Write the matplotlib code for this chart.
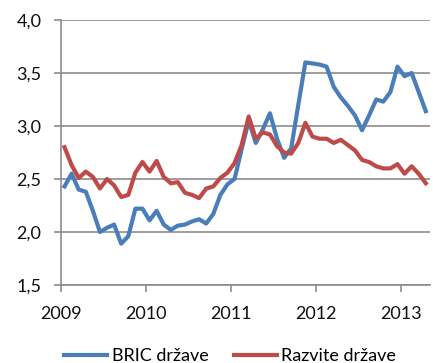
import numpy as np
import matplotlib.pyplot as plt
from matplotlib.ticker import FuncFormatter

# monthly values, Jan 2009 - Apr 2013
bric = [2.43, 2.55, 2.40, 2.38, 2.20, 2.00, 2.04, 2.07, 1.89, 1.96, 2.22, 2.22,
        2.11, 2.20, 2.07, 2.02, 2.06, 2.07, 2.10, 2.12, 2.08, 2.17, 2.35, 2.45,
        2.50, 2.78, 3.05, 2.84, 2.97, 3.12, 2.88, 2.70, 2.79, 3.20, 3.60, 3.59,
        3.58, 3.56, 3.37, 3.27, 3.19, 3.10, 2.96, 3.10, 3.25, 3.23, 3.32, 3.56,
        3.47, 3.50, 3.32, 3.14]
razvite = [2.80, 2.63, 2.51, 2.57, 2.52, 2.41, 2.50, 2.44, 2.33, 2.35, 2.56, 2.66,
           2.57, 2.67, 2.52, 2.46, 2.47, 2.37, 2.35, 2.32, 2.41, 2.43, 2.51, 2.56,
           2.65, 2.82, 3.09, 2.88, 2.94, 2.92, 2.81, 2.75, 2.74, 2.84, 3.03, 2.90,
           2.88, 2.88, 2.84, 2.87, 2.82, 2.77, 2.68, 2.66, 2.62, 2.60, 2.60, 2.64,
           2.55, 2.62, 2.55, 2.46]
years = [2009, 2010, 2011, 2012, 2013]
labels = ["BRIC države", "Razvite države"]

t = 2009 + (np.arange(len(bric)) + 0.5) / 12

plt.rcParams['font.family'] = ['Lato', 'DejaVu Sans']
grey = '#8c8c8c'

fig = plt.figure(figsize=(4.33, 3.63), dpi=100)
ax = fig.add_axes([61 / 433, 1 - 285 / 363, 369 / 433, 265 / 363])

ax.plot(t, bric, color='#4a7ebb', lw=3, solid_joinstyle='round', label=labels[0])
ax.plot(t, razvite, color='#be4b48', lw=3, solid_joinstyle='round', label=labels[1])

ax.set_xlim(2009, 2009 + 369 / 85)
ax.set_ylim(1.5, 4.0)
ax.set_yticks([1.5, 2.0, 2.5, 3.0, 3.5, 4.0])
ax.set_xticks(years)
ax.set_xticklabels([str(y) for y in years])
ax.yaxis.set_major_formatter(FuncFormatter(lambda v, p: f"{v:.1f}".replace('.', ',')))

ax.grid(axis='y', color=grey, lw=1.2)
ax.set_axisbelow(True)
for s in ['top', 'right']:
    ax.spines[s].set_visible(False)
for s in ['left', 'bottom']:
    ax.spines[s].set_color(grey)
    ax.spines[s].set_linewidth(1.2)
ax.tick_params(axis='both', colors=grey, length=5, width=1.2, labelsize=13,
               labelcolor='#111111')
ax.tick_params(axis='x', pad=10)
ax.tick_params(axis='y', pad=9)

fig.legend(loc='center', bbox_to_anchor=(230 / 433, 1 - 356 / 363), ncol=2, frameon=False,
           fontsize=13, handlelength=2.4, handletextpad=0.25, columnspacing=1.4,
           borderpad=0)

fig.savefig('out.png', dpi=100, facecolor='white')
